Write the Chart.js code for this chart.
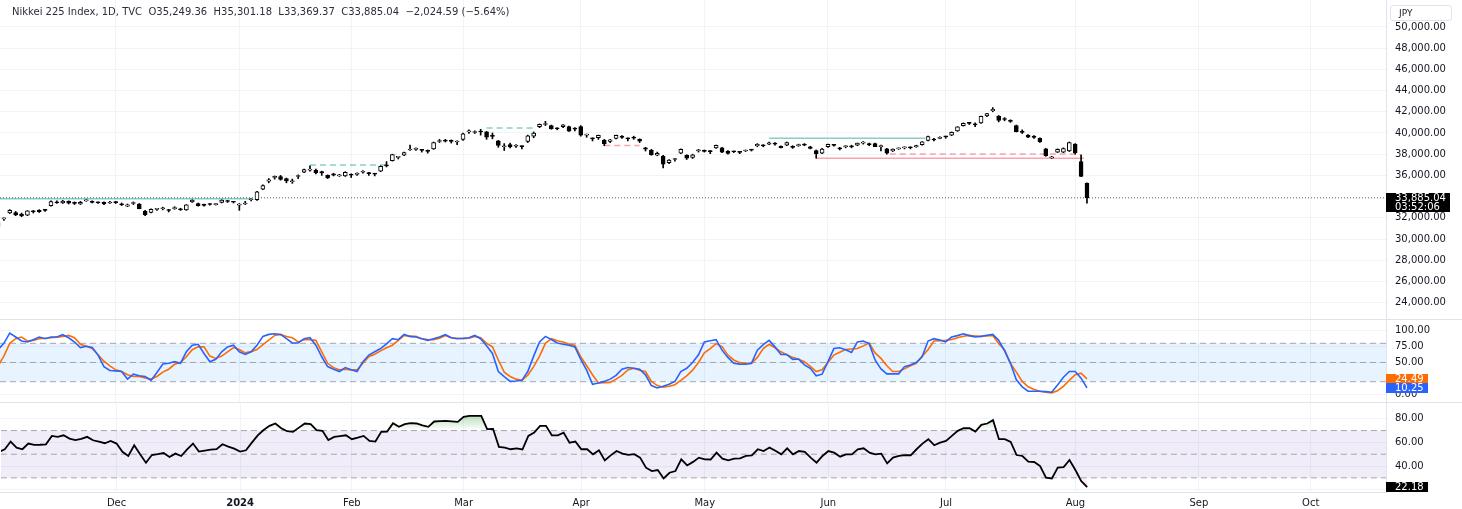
<!DOCTYPE html>
<html lang="en">
<head>
<meta charset="utf-8">
<title>Nikkei 225 Index, 1D</title>
<script src="https://cdn.jsdelivr.net/npm/chart.js@4.4.1/dist/chart.umd.min.js"></script>
<style>
    html, body { margin: 0; padding: 0; background: #fff; }
    body { width: 1462px; height: 509px; position: relative; overflow: hidden; font-family: 'DejaVu Sans', sans-serif; }
    canvas { position: absolute; left: 0; }
    #precio { top: 0; }
    #estocastico { top: 320px; }
    #rsi { top: 403px; }
    .separador { position: absolute; left: 0; width: 1462px; height: 1px; background: #e0e3eb; }
    #cabecera { position: absolute; left: 12px; top: 6px; font-size: 10px; color: #2a2e39; white-space: pre; }
    #moneda { position: absolute; left: 1390px; top: 5px; width: 52px; height: 14px; border: 1px solid #e0e3eb; border-radius: 3px;
              font-size: 9px; line-height: 14px; color: #131722; padding-left: 8px; }
</style>
</head>
<body>
<canvas id="precio" width="1462" height="319"></canvas>
<div class="separador" style="top:319px"></div>
<canvas id="estocastico" width="1462" height="82"></canvas>
<div class="separador" style="top:402px"></div>
<canvas id="rsi" width="1462" height="106"></canvas>
<div id="cabecera">Nikkei 225 Index, 1D, TVC  O35,249.36  H35,301.18  L33,369.37  C33,885.04  −2,024.59 (−5.64%)</div>
<div id="moneda">JPY</div>
<script>
// ---- datos (una vela por sesión, índice 0 = 1 nov 2023) ----
const indicesMeses = [20, 41, 60, 79, 99, 120, 141, 161, 183, 204, 223];
const etiquetasMeses = ['Dec', '2024', 'Feb', 'Mar', 'Apr', 'May', 'Jun', 'Jul', 'Aug', 'Sep', 'Oct'];
const ticksPrecio = [24000, 26000, 28000, 30000, 32000, 36000, 38000, 40000, 42000, 44000, 46000, 48000, 50000];
const ticksEstocastico = [0, 50, 75, 100];
const ticksRsi = [20, 40, 60, 80];
const nivelesEstocastico = [80, 50, 20];
const nivelesRsi = [70, 50, 30];

const aperturas = [
    31150, 31900, 32450, 32500, 32350, 32250, 32580, 32700, 32750, 33150, 33500, 33400, 33550, 33400, 33300, 33600, 33550, 33450, 33450, 33400,
    33450, 33300, 33100, 33350, 33300, 32600, 32500, 32800, 32850, 32750, 32850, 32850, 32750, 33500, 33350, 33250, 33300, 33250, 33450, 33600, 33500,
    33200, 33300, 33700, 33700, 34700, 35450, 35800, 35900, 35700, 35400, 35900, 36300, 36500, 36500, 36350, 36000, 36150, 35950, 35950,
    36050, 36100, 36300, 36200, 36150, 36400, 36900, 37400, 37700, 37900, 38400, 38450, 38400, 38350, 38500, 39200, 39250, 39300, 39150,
    39400, 40100, 40050, 40100, 40100, 39700, 39250, 38700, 38900, 38750, 38750, 39200, 39700, 40600, 40800, 40700, 40450, 40600, 40600, 40450,
    40600, 39800, 39500, 39550, 39300, 39200, 39500, 39700, 39500, 39600, 39400, 38600, 38400, 37900, 37800, 37200, 37500, 38100, 37900, 37700, 38300,
    38350, 38300, 38600, 38600, 38300, 38250, 38200, 38300, 38400, 38800, 38850, 38950, 39050, 38750, 38850, 38750, 38800, 38900, 38700, 38350, 38100,
    38700, 38850, 38600, 38700, 38800, 38850, 39050, 39000, 39000, 38700, 38500, 38300, 38500, 38600, 38650, 38700, 38900, 39300, 39400, 39500,
    39650, 39800, 40200, 40700, 40950, 40850, 40950, 41600, 42100, 41600, 41300, 41200, 40700, 40100, 39800, 39700, 39500, 38500, 37650, 38200, 38200, 38300,
    38950, 37300, 35249.36
];
const maximos = [
    31650, 32000, 32770, 32600, 32450, 32680, 32700, 32770, 32800, 33600, 33600, 33650, 33600, 33500, 33550, 33700, 33600, 33500, 33500, 33550,
    33550, 33400, 33300, 33500, 33350, 32700, 32850, 32900, 33000, 32800, 33050, 32900, 33250, 33700, 33400, 33300, 33350, 33350, 33700, 33650, 33550,
    33350, 33550, 33800, 34500, 35100, 35700, 35950, 36000, 35750, 35650, 36050, 36600, 36900, 36600, 36400, 36050, 36200, 36100, 36350,
    36150, 36250, 36450, 36300, 36200, 36900, 37300, 38000, 37750, 38200, 38850, 38600, 38450, 38400, 39150, 39400, 39400, 39350, 39250,
    39990, 40300, 40200, 40350, 40150, 40000, 39300, 39000, 39050, 38900, 38800, 39800, 40100, 40850, 41100, 40750, 40500, 40800, 40650, 40500,
    40700, 39900, 39550, 39800, 39400, 39400, 39800, 39750, 39550, 39700, 39450, 38650, 38450, 38200, 37900, 37500, 37600, 38500, 37950, 38000, 38450,
    38400, 38350, 38850, 38650, 38350, 38300, 38250, 38400, 38450, 39000, 38900, 39150, 39100, 38800, 39150, 38800, 38950, 39000, 38750, 38400, 38550,
    38950, 38900, 38650, 38800, 38850, 39050, 39200, 39050, 39050, 38850, 38550, 38500, 38600, 38700, 38700, 38850, 39200, 39700, 39500, 39650,
    39700, 40100, 40600, 40950, 41000, 40950, 41600, 41850, 42400, 41650, 41450, 41250, 40750, 40300, 39850, 39750, 39550, 38550, 37800, 38500, 38600, 39150,
    39000, 37950, 35301.18
];
const minimos = [
    31050, 31750, 32400, 32200, 32100, 32200, 32450, 32500, 32600, 33100, 33350, 33350, 33300, 33250, 33250, 33550, 33400, 33350, 33250, 33350,
    33350, 33150, 33050, 33250, 32850, 32200, 32450, 32700, 32750, 32550, 32800, 32700, 32700, 33450, 33100, 33100, 33200, 33200, 33400, 33450, 33400,
    32700, 33250, 33600, 33650, 34650, 35300, 35650, 35550, 35300, 35250, 35700, 36250, 36400, 36150, 36000, 35700, 35950, 35900, 35900,
    35800, 36000, 36200, 36000, 35950, 36350, 36800, 37350, 37550, 37850, 38350, 38350, 38200, 38100, 38450, 39100, 39150, 39050, 38900,
    39300, 39950, 39950, 39800, 39400, 39450, 38650, 38350, 38600, 38650, 38500, 39100, 39550, 40500, 40700, 40350, 40300, 40500, 40150, 40200,
    39700, 39600, 39250, 39400, 38800, 39100, 39450, 39500, 39250, 39400, 39100, 38300, 37900, 37850, 36700, 37100, 37350, 38050, 37500, 37600, 38200,
    38200, 38050, 38550, 38150, 38000, 38150, 38050, 38250, 38300, 38700, 38700, 38900, 38850, 38600, 38800, 38550, 38750, 38800, 38500, 37617, 38050,
    38650, 38750, 38400, 38600, 38600, 38800, 38950, 38800, 38700, 38300, 38000, 38250, 38450, 38500, 38500, 38650, 38850, 39250, 39250, 39450,
    39500, 39750, 40150, 40650, 40800, 40600, 40900, 41550, 42000, 41050, 41150, 41000, 40100, 39950, 39550, 39500, 39100, 37800, 37600, 38150, 38150, 38250,
    38000, 35880, 33369.37
];
const cierres = [
    31601, 31950, 32708, 32272, 32166, 32646, 32568, 32585, 32695, 33519, 33424, 33585, 33388, 33354, 33451, 33625, 33447, 33408, 33321, 33486,
    33431, 33231, 33231, 33445, 32858, 32307, 32791, 32843, 32926, 32686, 32970, 32758, 33219, 33675, 33141, 33169, 33254, 33305, 33681, 33540, 33464,
    33288, 33377, 33763, 34441, 35049, 35577, 35901, 35619, 35477, 35466, 35963, 36546, 36517, 36226, 36236, 35751, 36026, 36065, 36287,
    36011, 36158, 36354, 36160, 36119, 36863, 36897, 37963, 37703, 38157, 38487, 38470, 38364, 38262, 39098, 39233, 39239, 39208, 39166,
    39910, 40109, 40097, 40091, 39598, 39688, 38820, 38797, 38695, 38807, 38708, 39740, 40004, 40816, 40888, 40414, 40398, 40762, 40168, 40369,
    39803, 39838, 39451, 39773, 38992, 39347, 39773, 39581, 39442, 39523, 39232, 38471, 37962, 38079, 37068, 37438, 37552, 38460, 37628, 37934, 38405,
    38274, 38236, 38835, 38202, 38073, 38229, 38179, 38356, 38385, 38920, 38787, 39069, 38946, 38617, 39103, 38646, 38900, 38855, 38556, 38054, 38487,
    38923, 38837, 38490, 38703, 38683, 39038, 39134, 38876, 38720, 38814, 38102, 38482, 38570, 38633, 38596, 38804, 39173, 39667, 39341, 39583,
    39631, 40074, 40580, 40913, 40912, 40780, 41580, 41831, 42224, 41190, 41275, 41097, 40126, 40063, 39599, 39594, 39154, 37869, 37667, 38468, 38525, 39101,
    38126, 35909, 33885.04
];

const estocasticoK = [
    70, 80, 95.9, 89.8, 83.6, 82, 85.6, 89.8, 87.2, 89.8, 89.8, 93.4, 88.7, 82, 73.4, 75.4, 73.4, 61.6, 43.6, 37.5,
    36.9, 35.9, 24.1, 31.8, 29.2, 28.2, 22.1, 34.4, 47.7, 48.7, 51.3, 48.7, 66.7, 77, 78.5, 64.1, 51.3, 54.9, 66.7, 74.4, 77,
    66.7, 62.6, 66.7, 77, 90.8, 93.9, 94.9, 93.9, 87.2, 80.5, 80.5, 87.2, 88.7, 77, 59, 43.6, 39.5, 35.9, 42.1,
    38.5, 35.9, 51.3, 61.6, 66.7, 71.8, 79, 87.2, 85.6, 93.9, 90.8, 89.8, 87, 84.6, 87.2, 90, 93.4, 88.7, 87.2,
    88, 88.7, 92.3, 87.2, 76, 64.1, 35.9, 28, 20.5, 21, 22.1, 35.9, 60, 82.1, 90.8, 86, 80.5, 78.5, 77, 74.4,
    55, 38, 16, 18, 20.5, 24, 30, 39.5, 42.1, 41, 39.5, 30.8, 13.9, 10.3, 12.8, 16, 20.5, 35.9, 41, 50, 62,
    82.1, 84, 85.6, 69.3, 58, 48.7, 47.5, 47.2, 48.7, 69.3, 78, 84.6, 74.4, 62.6, 62.6, 54.9, 55.4, 46.2, 41, 29.2, 31.8,
    51.3, 71.8, 73, 70, 65.7, 82.1, 83.6, 79.5, 53.9, 40, 32.3, 32.3, 32.3, 43.6, 46, 50, 59, 83.6, 87.2, 85,
    82.1, 89.8, 92, 94.9, 92, 89.8, 90.8, 92.5, 93.9, 84.6, 68, 48.7, 23.1, 12, 5.1, 5, 5.1, 4.5, 3.6, 15, 27, 35.9,
    35.9, 25.6, 10.25
];
const estocasticoD = [
    45, 60, 80, 87.2, 89.8, 83.6, 84.6, 87.2, 88, 88.7, 89.5, 90.5, 92.3, 88.7, 78.5, 75.4, 71.8, 62, 52, 44.6,
    38.5, 35.9, 30.8, 28.2, 28.2, 26, 24.1, 28.2, 35, 39.5, 47.2, 49.8, 59, 70, 74.4, 74.4, 60, 56.4, 60, 66.7, 73.4,
    70.3, 65.1, 67, 70.3, 78, 85, 92.3, 93.9, 90.5, 88.7, 82.1, 85.6, 85.6, 84.6, 66.7, 48.7, 42, 38.5, 39.5,
    38.5, 38.5, 48.7, 59, 63, 68.2, 73, 77, 84.6, 92.3, 90.8, 90.8, 87.2, 86, 85.6, 88, 92.3, 88.7, 88,
    87.2, 88, 90.8, 88.7, 80, 74.4, 53.9, 35, 28.2, 24, 22.1, 30, 43.6, 60, 80, 87.2, 84, 82.1, 79, 77,
    59, 45, 30.8, 18, 18.5, 19, 24, 30, 38.5, 41, 38, 35.9, 20.5, 14, 11.3, 13, 15.4, 22, 29.2, 38, 50,
    65, 71.8, 79.5, 75, 61.6, 54, 49.8, 48.7, 48.7, 58, 71.8, 78.5, 73, 66.7, 62, 58, 55, 51.3, 44, 35.9, 38.5,
    50, 61.6, 66, 70.3, 71, 71.8, 76, 80.5, 65, 56.4, 45, 35.9, 35.9, 40, 45, 48.7, 60, 70, 83.6, 84,
    84.6, 86, 88.7, 91, 92.3, 91.5, 90.8, 91.5, 92.3, 79.5, 70, 48.7, 35, 20.5, 12, 7.7, 5, 3.5, 2.6, 6, 12.8, 22,
    30.8, 33.4, 24.49
];
const rsi = [
    52, 54.2, 60.7, 55.6, 54.2, 59, 57.9, 58, 58.4, 65.5, 64.7, 66, 63.2, 62, 63, 64.7, 61.8, 60.7, 59.3, 61.3,
    59, 52, 48.5, 57.6, 49.9, 42.8, 49.3, 50, 51, 47.6, 50.5, 48.5, 54, 59, 52.2, 53, 53.8, 54.2, 58.4, 56.4, 54.7,
    52.2, 53.3, 59.8, 66, 70.5, 74, 76, 72, 69.5, 68.9, 72.5, 76, 75.4, 70.3, 69.8, 62, 64.7, 65.3, 66,
    62.7, 64, 65.5, 61.3, 60.7, 68.9, 69.2, 76.3, 73.2, 75.5, 76.3, 76, 74.5, 73.2, 77.7, 78, 78.3, 77.8, 77.4,
    81.7, 82.5, 82.5, 82.5, 71.2, 71.5, 56.2, 55.5, 54.2, 55, 54, 65.5, 68.3, 74, 74, 66, 66, 68.3, 59.8, 60.7,
    54.2, 54.2, 49.9, 53.3, 44.8, 49, 52.7, 50.5, 49.5, 50, 47.1, 38.6, 35.7, 36.6, 29.5, 34.3, 35.7, 45.7, 40.5, 43.5, 47.1,
    45.7, 45.5, 51.3, 46.2, 44.8, 46.2, 46.5, 48.5, 49.1, 54.2, 52.7, 55.6, 53, 49.9, 55, 49.9, 52.7, 51.9, 47.1, 42.8, 48.5,
    52.7, 51.3, 47.9, 49.9, 49.9, 54.2, 55, 51.3, 49.9, 50.5, 42.2, 47.1, 48.5, 49.3, 49.1, 54.2, 59, 62.7, 57.6, 59.8,
    61.3, 65.5, 69.8, 72, 72, 69.2, 74.9, 76, 78.8, 62.7, 62.7, 60.4, 49.3, 48.5, 43.7, 43.4, 40, 30.1, 29.5, 38.6, 39.1, 45.1,
    36.6, 27.2, 22.18
];

// niveles dibujados: [desde vela, hasta vela, precio]
const resistencias = [[-1, 43, 33800], [131, 157.5, 39500]];
const resistenciasDiscontinuas = [[53, 66.5, 36980], [83, 91, 40470]];
const soportes = [[139, 184.5, 37617]];
const soportesDiscontinuos = [[103, 109, 38810], [151.5, 183.8, 38020]];
const horaCierre = '03:52:06';

// ---- ventana visible ----
const X_MIN = 0.34;
const X_MAX = 235.8;
const ANCHO_EJE = 76;

const puntos = arr => arr.map((y, i) => ({ x: i, y }));
const horizontal = (desde, hasta, valor) => [{ x: desde, y: valor }, { x: hasta, y: valor }];
const ultimo = arr => arr[arr.length - 1];

// etiquetas de último valor sobre el eje derecho
const etiquetaValor = {
    id: 'etiquetaValor',
    afterDraw(chart, args, opts) {
        const items = opts.items || [];
        if (!items.length) return;
        const { ctx } = chart;
        const eje = chart.scales.y;
        ctx.save();
        items.forEach(item => {
            const py = eje.getPixelForValue(item.valor);
            const alto = item.lineas.length * 9 + 1;
            const top = Math.round(py - 5);
            ctx.fillStyle = item.fondo;
            ctx.fillRect(eje.left, top, item.ancho, alto);
            ctx.fillStyle = '#fff';
            ctx.font = "10px 'DejaVu Sans'";
            ctx.textBaseline = 'middle';
            item.lineas.forEach((t, k) => ctx.fillText(t, eje.left + 9, top + 5 + k * 9));
        });
        ctx.restore();
    }
};

class GraficoNikkei {
    constructor() {
        this.charts = {};
        this.init();
    }

    init() {
        Chart.defaults.font.family = "'DejaVu Sans', sans-serif";
        Chart.defaults.font.size = 10;
        Chart.defaults.color = '#131722';
        Chart.defaults.animation = false;
        Chart.register(etiquetaValor);

        this.crearPrecio();
        this.crearEstocastico();
        this.crearRsi();
        this.degradadosRsi();
    }

    ejeX(conEtiquetas) {
        return {
            type: 'linear',
            min: X_MIN,
            max: X_MAX,
            offset: false,
            grid: { color: '#f0f3fa', drawTicks: false, offset: false },
            border: { display: conEtiquetas, color: '#e0e3eb' },
            ticks: {
                display: conEtiquetas,
                autoSkip: false,
                maxRotation: 0,
                padding: 5,
                color: '#131722',
                callback: v => etiquetasMeses[indicesMeses.indexOf(v)],
                font: ctx => ({ size: 10, weight: ctx.tick && ctx.tick.label === '2024' ? 'bold' : 'normal' })
            },
            afterBuildTicks: eje => { eje.ticks = indicesMeses.map(v => ({ value: v })); },
            afterFit: eje => {
                eje.height = conEtiquetas ? 17 : 0;
                eje.paddingLeft = 0;
                eje.paddingRight = 0;
            }
        };
    }

    ejeY(min, max, ticks, formato) {
        return {
            position: 'right',
            min,
            max,
            grid: { color: '#f0f3fa', drawTicks: false },
            border: { display: true, color: '#e0e3eb' },
            ticks: { padding: 9, color: '#131722', callback: formato },
            afterBuildTicks: eje => { eje.ticks = ticks.map(v => ({ value: v })); },
            afterFit: eje => {
                eje.width = ANCHO_EJE;
                eje.paddingTop = 0;
                eje.paddingBottom = 0;
            }
        };
    }

    linea(datos, color, dash, ancho, tipo) {
        return {
            type: tipo,
            data: datos,
            borderColor: color,
            borderDash: dash,
            borderWidth: ancho,
            pointRadius: 0,
            fill: false,
            order: 2
        };
    }

    crearPrecio() {
        const verde = 'rgba(38,166,154,0.55)';
        const rojo = 'rgba(242,54,69,0.45)';
        const niveles = [
            ...resistencias.map(([a, b, v]) => this.linea(horizontal(a, b, v), verde, [], 1.5, 'line')),
            ...resistenciasDiscontinuas.map(([a, b, v]) => this.linea(horizontal(a, b, v), verde, [6, 4], 1.5, 'line')),
            ...soportes.map(([a, b, v]) => this.linea(horizontal(a, b, v), rojo, [], 1.5, 'line')),
            ...soportesDiscontinuos.map(([a, b, v]) => this.linea(horizontal(a, b, v), rojo, [6, 4], 1.5, 'line'))
        ];

        this.charts.precio = new Chart(document.getElementById('precio'), {
            type: 'bar',
            data: {
                datasets: [
                    {
                        label: 'cuerpos',
                        data: aperturas.map((o, i) => ({ x: i, y: [o, cierres[i]] })),
                        backgroundColor: ctx => cierres[ctx.dataIndex] >= aperturas[ctx.dataIndex] ? '#ffffff' : '#000000',
                        borderColor: '#000000',
                        borderWidth: 1,
                        borderSkipped: false,
                        barThickness: 4,
                        minBarLength: 1,
                        grouped: false,
                        order: 0
                    },
                    {
                        label: 'mechas',
                        data: minimos.map((l, i) => ({ x: i, y: [l, maximos[i]] })),
                        backgroundColor: '#000000',
                        barThickness: 1,
                        grouped: false,
                        order: 1
                    },
                    ...niveles,
                    this.linea(horizontal(X_MIN, X_MAX, ultimo(cierres)), '#555a66', [1, 2], 1, 'line')
                ]
            },
            options: {
                responsive: false,
                events: [],
                layout: { padding: 0 },
                scales: {
                    x: this.ejeX(false),
                    y: this.ejeY(22453, 52547, ticksPrecio,
                        v => v.toLocaleString('en-US', { minimumFractionDigits: 2, maximumFractionDigits: 2 }))
                },
                plugins: {
                    legend: { display: false },
                    tooltip: { enabled: false },
                    etiquetaValor: {
                        items: [{
                            valor: ultimo(cierres),
                            lineas: [ultimo(cierres).toLocaleString('en-US', { minimumFractionDigits: 2 }), horaCierre],
                            fondo: '#000000',
                            ancho: 64
                        }]
                    }
                }
            }
        });
    }

    crearEstocastico() {
        const gris = '#a3a6af';
        this.charts.estocastico = new Chart(document.getElementById('estocastico'), {
            type: 'line',
            data: {
                datasets: [
                    {
                        data: horizontal(X_MIN, X_MAX, nivelesEstocastico[0]),
                        borderColor: gris, borderDash: [6, 4], borderWidth: 1, pointRadius: 0,
                        fill: { target: { value: nivelesEstocastico[2] } },
                        backgroundColor: 'rgba(33,150,243,0.11)',
                        order: 3
                    },
                    this.linea(horizontal(X_MIN, X_MAX, nivelesEstocastico[1]), gris, [6, 4], 1, 'line'),
                    this.linea(horizontal(X_MIN, X_MAX, nivelesEstocastico[2]), gris, [6, 4], 1, 'line'),
                    { data: puntos(estocasticoD), borderColor: '#ff6d00', borderWidth: 1.6, pointRadius: 0, order: 1 },
                    { data: puntos(estocasticoK), borderColor: '#2962ff', borderWidth: 1.6, pointRadius: 0, order: 0 }
                ]
            },
            options: {
                responsive: false,
                events: [],
                layout: { padding: 0 },
                scales: {
                    x: this.ejeX(false),
                    y: this.ejeY(-11.7, 116.4, ticksEstocastico, v => v.toFixed(2))
                },
                plugins: {
                    legend: { display: false },
                    tooltip: { enabled: false },
                    etiquetaValor: {
                        items: [
                            { valor: ultimo(estocasticoD), lineas: [ultimo(estocasticoD).toFixed(2)], fondo: '#ff6d00', ancho: 42 },
                            { valor: ultimo(estocasticoK), lineas: [ultimo(estocasticoK).toFixed(2)], fondo: '#2962ff', ancho: 42 }
                        ]
                    }
                }
            }
        });
    }

    crearRsi() {
        const gris = '#a3a6af';
        this.charts.rsi = new Chart(document.getElementById('rsi'), {
            type: 'line',
            data: {
                datasets: [
                    {
                        data: horizontal(X_MIN, X_MAX, nivelesRsi[0]),
                        borderColor: gris, borderDash: [6, 4], borderWidth: 1, pointRadius: 0,
                        fill: { target: { value: nivelesRsi[2] } },
                        backgroundColor: 'rgba(126,87,194,0.11)',
                        order: 3
                    },
                    this.linea(horizontal(X_MIN, X_MAX, nivelesRsi[1]), gris, [6, 4], 1, 'line'),
                    this.linea(horizontal(X_MIN, X_MAX, nivelesRsi[2]), gris, [6, 4], 1, 'line'),
                    {
                        data: puntos(rsi),
                        borderColor: '#000000',
                        borderWidth: 1.8,
                        pointRadius: 0,
                        fill: { target: { value: nivelesRsi[0] }, above: 'rgba(76,175,80,0.25)', below: 'rgba(0,0,0,0)' },
                        order: 0
                    },
                    {
                        data: puntos(rsi),
                        borderWidth: 0,
                        pointRadius: 0,
                        fill: { target: { value: nivelesRsi[2] }, above: 'rgba(0,0,0,0)', below: 'rgba(242,54,69,0.25)' },
                        order: 1
                    }
                ]
            },
            options: {
                responsive: false,
                events: [],
                layout: { padding: 0 },
                scales: {
                    x: this.ejeX(true),
                    y: this.ejeY(18.0, 92.6, ticksRsi, v => v.toFixed(2))
                },
                plugins: {
                    legend: { display: false },
                    tooltip: { enabled: false },
                    etiquetaValor: {
                        items: [{ valor: ultimo(rsi), lineas: [ultimo(rsi).toFixed(2)], fondo: '#000000', ancho: 42 }]
                    }
                }
            }
        });
    }

    // relleno de sobrecompra / sobreventa con degradado, como TradingView
    degradadosRsi() {
        const chart = this.charts.rsi;
        const y = chart.scales.y;
        const ctx = chart.ctx;

        const sobrecompra = ctx.createLinearGradient(0, y.getPixelForValue(100), 0, y.getPixelForValue(nivelesRsi[0]));
        sobrecompra.addColorStop(0, 'rgba(76,175,80,1)');
        sobrecompra.addColorStop(1, 'rgba(76,175,80,0)');

        const sobreventa = ctx.createLinearGradient(0, y.getPixelForValue(nivelesRsi[2]), 0, y.getPixelForValue(0));
        sobreventa.addColorStop(0, 'rgba(242,54,69,0)');
        sobreventa.addColorStop(1, 'rgba(242,54,69,1)');

        chart.data.datasets[3].fill.above = sobrecompra;
        chart.data.datasets[4].fill.below = sobreventa;
        chart.update();
    }
}

const app = new GraficoNikkei();
</script>
</body>
</html>
